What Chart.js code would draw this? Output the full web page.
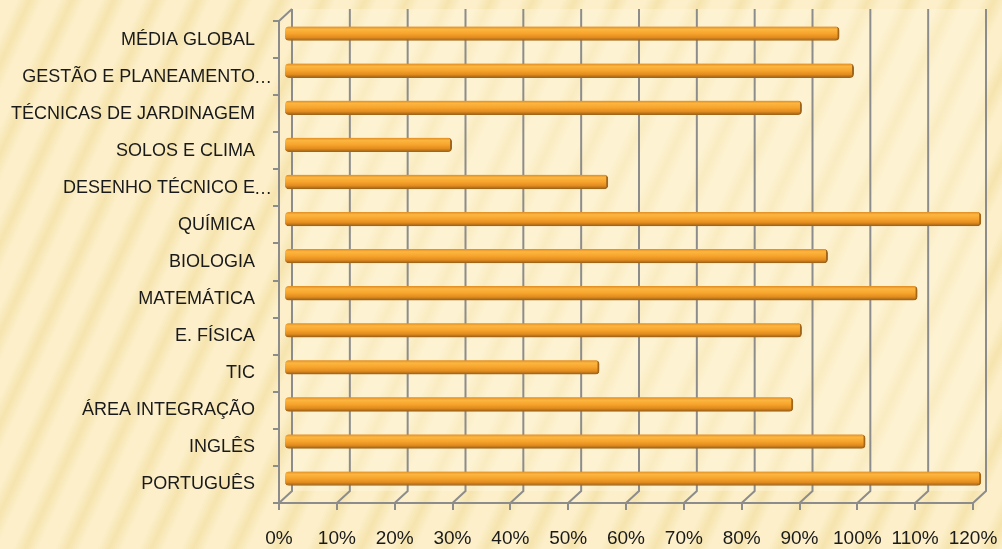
<!DOCTYPE html>
<html>
<head>
<meta charset="utf-8">
<script src="https://cdn.jsdelivr.net/npm/chart.js@4/dist/chart.umd.min.js"></script>
<style>
  html, body { margin: 0; padding: 0; }
  body {
    width: 1002px; height: 549px; overflow: hidden;
    background: repeating-linear-gradient(115deg, #FCEFC9 0px, #FCEFC9 16px, #F6E4AE 27px, #FCEFC9 38px);
  }
  #wrap { position: relative; width: 1002px; height: 549px; }
</style>
</head>
<body>
<div id="wrap"><canvas id="chart"></canvas></div>
<script>
// subjects, top to bottom as in the slide
var subjects = [
  'MÉDIA GLOBAL',
  'GESTÃO E PLANEAMENTO…',
  'TÉCNICAS DE JARDINAGEM',
  'SOLOS E CLIMA',
  'DESENHO TÉCNICO E…',
  'QUÍMICA',
  'BIOLOGIA',
  'MATEMÁTICA',
  'E. FÍSICA',
  'TIC',
  'ÁREA INTEGRAÇÃO',
  'INGLÊS',
  'PORTUGUÊS'
];

// success rate per subject (%)
var successRate = [96, 98.5, 89.5, 29, 56, 120.5, 94, 109.5, 89.5, 54.5, 88, 100.5, 120.5];

// x axis range (%)
var axisMin = 0;
var axisMax = 120;
var axisStep = 10;

var AXIS = '#8C8C8C';
var LABEL_FONT = { family: 'Liberation Sans', size: 18 };
var DEPTH_X = 13, DEPTH_Y = -12;
var BAR_DX = 5, BAR_DY = -6;

/* back wall gridlines + floor diagonals, then shift bars into the depth */
var depthPlugin = {
  id: 'depth',
  beforeDatasetsDraw: function(chart) {
    var ctx = chart.ctx, xs = chart.scales.x, a = chart.chartArea;
    ctx.save();
    ctx.fillStyle = 'rgba(255,247,222,0.4)';
    ctx.fillRect(a.left + DEPTH_X, a.top + DEPTH_Y, a.right - a.left, a.bottom - a.top);
    ctx.strokeStyle = AXIS;
    ctx.lineWidth = 2;
    for (var v = axisMin; v <= axisMax; v += axisStep) {
      var px = xs.getPixelForValue(v);
      ctx.beginPath();
      ctx.moveTo(px, a.bottom);
      ctx.lineTo(px + DEPTH_X, a.bottom + DEPTH_Y);
      ctx.lineTo(px + DEPTH_X, a.top + DEPTH_Y);
      ctx.stroke();
    }
    ctx.beginPath();
    ctx.moveTo(a.left, a.top);
    ctx.lineTo(a.left + DEPTH_X, a.top + DEPTH_Y);
    ctx.stroke();
    ctx.restore();

    ctx.save();
    ctx.translate(BAR_DX, BAR_DY);
  },
  afterDatasetsDraw: function(chart) {
    chart.ctx.restore();
  },
  // truncated labels: the dots hang past the label column like in PowerPoint
  afterDraw: function(chart) {
    var ctx = chart.ctx, ys = chart.scales.y;
    ctx.save();
    ctx.font = LABEL_FONT.size + 'px ' + LABEL_FONT.family;
    ctx.fillStyle = '#1A1A1A';
    ctx.textBaseline = 'middle';
    subjects.forEach(function(s, i) {
      if (s.slice(-1) === '…') ctx.fillText('…', 254, ys.getPixelForValue(i) + 1);
    });
    ctx.restore();
  }
};

function barGradient(c) {
  var chart = c.chart;
  var ys = chart.scales.y;
  if (!ys || c.type !== 'data') return '#F6A22C';
  var py = ys.getPixelForValue(c.dataIndex);
  if (!isFinite(py)) return '#F6A22C';
  var g = chart.ctx.createLinearGradient(0, py - 7, 0, py + 7);
  g.addColorStop(0, '#E08C22');
  g.addColorStop(0.2, '#FCB640');
  g.addColorStop(0.5, '#F7A42C');
  g.addColorStop(0.78, '#E18B1F');
  g.addColorStop(1, '#9A6016');
  return g;
}

new Chart(document.getElementById('chart'), {
  type: 'bar',
  data: {
    labels: subjects,
    datasets: [{
      data: successRate,
      backgroundColor: barGradient,
      borderColor: '#A2661A',
      borderWidth: { top: 0, right: 2, bottom: 1, left: 0 },
      borderRadius: 4,
      borderSkipped: false,
      barThickness: 14,
      clip: false
    }]
  },
  options: {
    indexAxis: 'y',
    responsive: true,
    maintainAspectRatio: false,
    animation: false,
    layout: { padding: { top: 21, right: 29, left: 0, bottom: 0 } },
    plugins: {
      legend: { display: false },
      tooltip: { enabled: false }
    },
    scales: {
      x: {
        min: axisMin,
        max: axisMax,
        afterFit: function(s) { s.height = 46; s.paddingLeft = 0; s.paddingRight = 0; },
        border: { color: AXIS, width: 2 },
        grid: { drawOnChartArea: false, color: AXIS, lineWidth: 2, tickLength: 7 },
        ticks: {
          stepSize: axisStep,
          maxRotation: 0,
          color: '#1A1A1A',
          padding: 17,
          font: { family: 'Liberation Sans', size: 19 },
          callback: function(v) { return v + '%'; }
        }
      },
      y: {
        afterFit: function(s) { s.width = 279; s.paddingTop = 0; s.paddingBottom = 0; },
        border: { color: AXIS, width: 2 },
        grid: { drawOnChartArea: false, color: AXIS, lineWidth: 2, tickLength: 6, offset: true },
        ticks: {
          color: '#1A1A1A',
          padding: 18,
          font: LABEL_FONT,
          callback: function(v, i) { return subjects[i].replace('…', ''); }
        }
      }
    }
  },
  plugins: [depthPlugin]
});
</script>
</body>
</html>
